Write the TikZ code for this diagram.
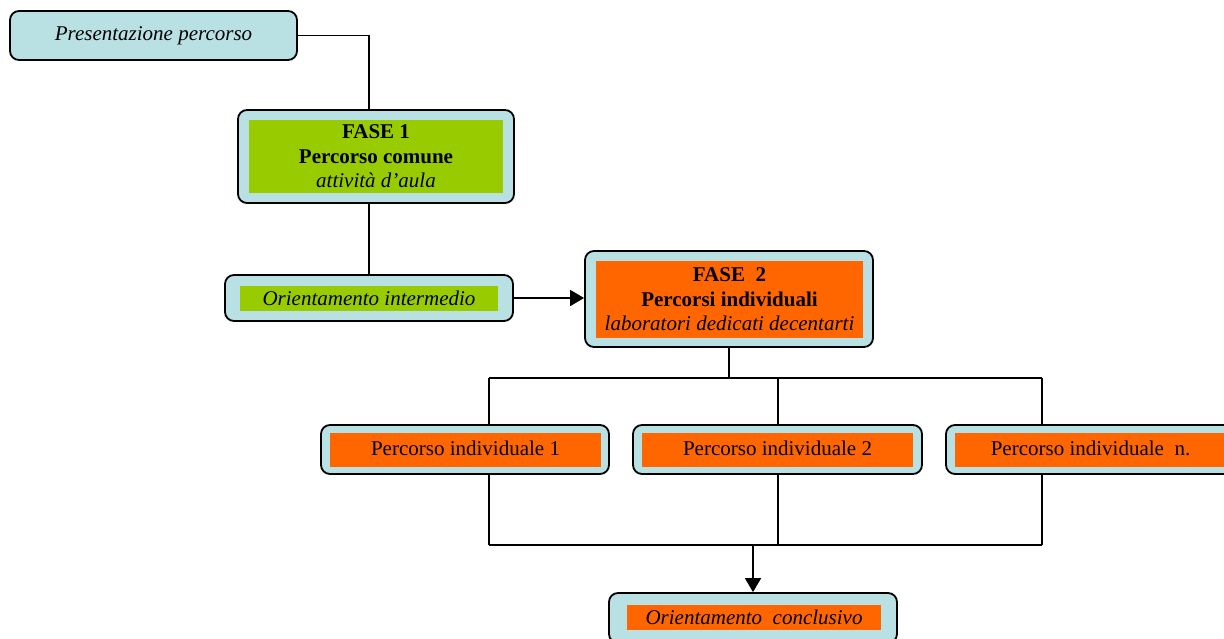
\documentclass[tikz,border=0pt]{standalone}
\usepackage{fontspec}
\setmainfont{Liberation Serif}
\usetikzlibrary{arrows.meta}
\definecolor{boxblue}{HTML}{B9E1E4}
\definecolor{fgreen}{HTML}{99CC00}
\definecolor{forange}{HTML}{FF6600}
\begin{document}
\begin{tikzpicture}[x=1pt,y=-1pt,
  outer/.style={draw=black, line width=1.8pt, rounded corners=9pt, fill=boxblue, inner sep=0pt},
  inner/.style={inner sep=0pt, align=center, font=\fontsize{21}{24.5}\selectfont},
  conn/.style={line width=1.7pt},
  arr/.style={line width=1.7pt, -{Triangle[length=14pt,width=16pt]}}]
\useasboundingbox (0,0) rectangle (1224,638);
% boxes
\node[outer, minimum width=287, minimum height=49, font=\fontsize{21}{24.5}\selectfont\itshape] (pres) at (153.5,35.5) {\raisebox{-1.5pt}{Presentazione percorso}};
\node[outer, minimum width=276, minimum height=93] (f1) at (376,156.5) {};
\node[inner, fill=fgreen, minimum width=254, minimum height=73] (f1i) at (376,156.5) {\textbf{FASE 1}\\\textbf{Percorso comune}\\\textit{attività d’aula}};
\node[outer, minimum width=288, minimum height=46] (oi) at (369,298) {};
\node[inner, fill=fgreen, minimum width=258, minimum height=25] (oii) at (369,298.5) {\itshape Orientamento intermedio};
\node[outer, minimum width=288, minimum height=96] (f2) at (729,299) {};
\node[inner, fill=forange, minimum width=267, minimum height=77] (f2i) at (729.5,299.5) {\textbf{FASE\ \ 2}\\\textbf{Percorsi individuali}\\\textit{laboratori dedicati decentarti}};
\node[outer, minimum width=288, minimum height=49] (p1) at (465,449.5) {};
\node[inner, fill=forange, minimum width=271, minimum height=34] (p1i) at (465.5,450) {\raisebox{3pt}{Percorso individuale 1}};
\node[outer, minimum width=289, minimum height=49] (p2) at (777.5,449.5) {};
\node[inner, fill=forange, minimum width=271, minimum height=34] (p2i) at (777.5,450) {\raisebox{3pt}{Percorso individuale 2}};
\node[outer, minimum width=288, minimum height=49] (pn) at (1090,449.5) {};
\node[inner, fill=forange, minimum width=271, minimum height=34] (pni) at (1090.5,450) {\raisebox{3pt}{Percorso individuale\ \ n.}};
\node[outer, minimum width=288, minimum height=50] (oc) at (753,618) {};
\node[inner, fill=forange, minimum width=254, minimum height=25] (oci) at (754,617.5) {\itshape Orientamento\ \ conclusivo};
% coordinates
\coordinate (t1) at (489,378);
\coordinate (t2) at (778,378);
\coordinate (t3) at (1042,378);
\coordinate (b1) at (489,545);
\coordinate (b2) at (778,545);
\coordinate (b3) at (1042,545);
\coordinate (ba) at (753,545);
% connectors
\draw[conn] (pres.east) -| (oi.north |- f1.north);
\draw[conn] (oi.north |- f1.south) -- (oi.north);
\draw[arr] (oi.east) -- (oi.east -| f2.west);
\draw[conn] (f2.south) -- (f2.south |- t1);
\draw[conn] (t1) -- (t3);
\draw[conn] (t1) -- (t1 |- p1.north);
\draw[conn] (t2) -- (t2 |- p2.north);
\draw[conn] (t3) -- (t3 |- pn.north);
\draw[conn] (b1 |- p1.south) -- (b1);
\draw[conn] (b2 |- p2.south) -- (b2);
\draw[conn] (b3 |- pn.south) -- (b3);
\draw[conn] (b1) -- (b3);
\draw[arr] (ba) -- (oc.north);
\end{tikzpicture}
\end{document}
